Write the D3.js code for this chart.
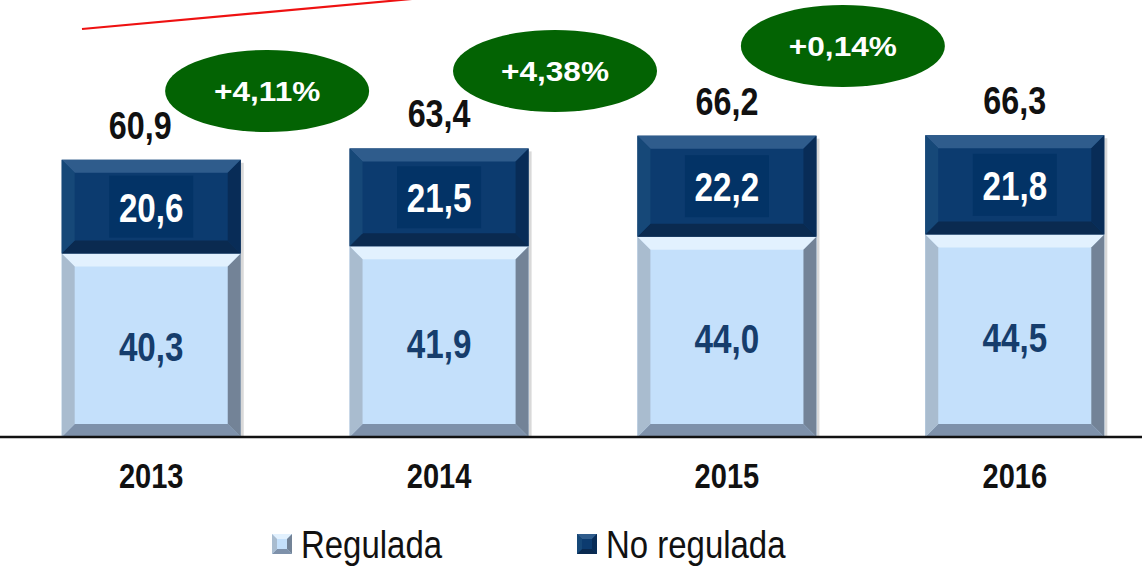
<!DOCTYPE html>
<html><head><meta charset="utf-8">
<script src="https://cdn.jsdelivr.net/npm/d3@7/dist/d3.min.js"></script>
<style>
html,body{margin:0;padding:0;background:#fff;}
svg{display:block;}
text{font-family:"Liberation Sans",Arial,sans-serif;}
</style></head>
<body>
<svg id="chart" width="1142" height="568"></svg>
<script>
const years = ["2013","2014","2015","2016"];
const regulada = [40.3, 41.9, 44.0, 44.5];
const noRegulada = [20.6, 21.5, 22.2, 21.8];
const totals = [60.9, 63.4, 66.2, 66.3];
const growth = ["+4,11%", "+4,38%", "+0,14%"];
const seriesNames = ["Regulada", "No regulada"];

const fmt = v => d3.format(".1f")(v).replace(".", ",");

const svg = d3.select("#chart");
const W = 1142, H = 568;
const x = d3.scaleBand().domain(years).range([7, 1159]).paddingInner(0.378).paddingOuter(0.19);
const y = d3.scaleLinear().domain([0, 96]).range([437, 0]);

const bw = x.bandwidth();
const bev = 12;

function label(g, tx, ty, str, size, sx, opts) {
  const t = g.append("text")
    .attr("transform", `translate(${tx},${ty}) scale(${sx},1)`)
    .attr("text-anchor", (opts && opts.anchor) || "middle")
    .attr("font-size", size)
    .attr("font-weight", (opts && opts.weight) || "bold")
    .attr("fill", (opts && opts.fill) || "#111")
    .text(str);
  return t;
}

function bevelBox(g, x0, y0, w, h, c, b0) {
  const x1 = x0 + w, y1 = y0 + h;
  const b = Math.min(b0, h / 2);
  g.append("rect").attr("x", x0).attr("y", y0).attr("width", w).attr("height", h).attr("fill", c.main);
  g.append("polygon").attr("points", [[x0,y0],[x1,y0],[x1-b,y0+b],[x0+b,y0+b]].join(" ")).attr("fill", c.top);
  g.append("polygon").attr("points", [[x0,y1],[x1,y1],[x1-b,y1-b],[x0+b,y1-b]].join(" ")).attr("fill", c.bottom);
  g.append("polygon").attr("points", [[x0,y0],[x0+b,y0+b],[x0+b,y1-b],[x0,y1]].join(" ")).attr("fill", c.left);
  g.append("polygon").attr("points", [[x1,y0],[x1-b,y0+b],[x1-b,y1-b],[x1,y1]].join(" ")).attr("fill", c.right);
}

const lightC = {main:"#c4e0fb", top:"#e2f1fe", bottom:"#7e91aa", left:"#a9bccf", right:"#738397"};
const darkC = {main:"#0c3b6f", top:"#2f5c8c", bottom:"#0a2a50", left:"#164878", right:"#082c57"};

const bars = svg.append("g");
years.forEach((yr, i) => {
  const x0 = x(yr);
  const g = bars.append("g");
  g.append("rect").attr("x", x0 + bw).attr("y", y(totals[i]) + 3).attr("width", 3)
    .attr("height", y(0) - y(totals[i]) - 3).attr("fill", "#d9d9d9");
  bevelBox(g, x0, y(regulada[i]), bw, y(0) - y(regulada[i]), lightC, 13);
  bevelBox(g, x0, y(regulada[i] + noRegulada[i]), bw, y(regulada[i]) - y(regulada[i] + noRegulada[i]), darkC, 13);

  const cx = x0 + bw / 2;
  const cyD = (y(regulada[i]) + y(regulada[i] + noRegulada[i])) / 2;
  g.append("rect").attr("x", cx - 42).attr("y", cyD - 31).attr("width", 84).attr("height", 62).attr("fill", "#033366");
  label(g, cx, cyD + 15, fmt(noRegulada[i]), 41, 0.81, {fill:"#fff"});
  const cyL = (y(0) + y(regulada[i])) / 2;
  label(g, cx, cyL + 16, fmt(regulada[i]), 41, 0.81, {fill:"#163d6c"});
  label(g, cx - (i === 0 ? 11 : 0), y(totals[i]) - 21, fmt(totals[i]), 38, 0.85, {fill:"#111"});
  label(g, cx, 488, yr, 35, 0.83, {fill:"#111"});
});

svg.append("line").attr("x1", 0).attr("x2", W).attr("y1", y(0)).attr("y2", y(0))
  .attr("stroke", "#111").attr("stroke-width", 2.5);

svg.append("line").attr("x1", 82).attr("y1", 29).attr("x2", 412).attr("y2", -1)
  .attr("stroke", "#ee1111").attr("stroke-width", 2.2);

const pillY = [91, 71, 46];
growth.forEach((t, i) => {
  const cx = (x(years[i]) + x(years[i + 1]) + bw) / 2 - 28;
  svg.append("ellipse").attr("cx", cx).attr("cy", pillY[i]).attr("rx", 102).attr("ry", 41).attr("fill", "#036303");
  label(svg, cx, pillY[i] + 10, t, 27, 1.17, {fill:"#fff"});
});

const lg = svg.append("g");
const legX = [272, 577];
const legC = [lightC, darkC];
seriesNames.forEach((n, i) => {
  const gx = legX[i];
  const c = legC[i];
  bevelBox(lg, gx, 534, 20, 20, c, 5);
  label(lg, gx + 29, 558, n, 39, 0.845, {anchor:"start", weight:"normal", fill:"#111"});
});
</script>
</body></html>
